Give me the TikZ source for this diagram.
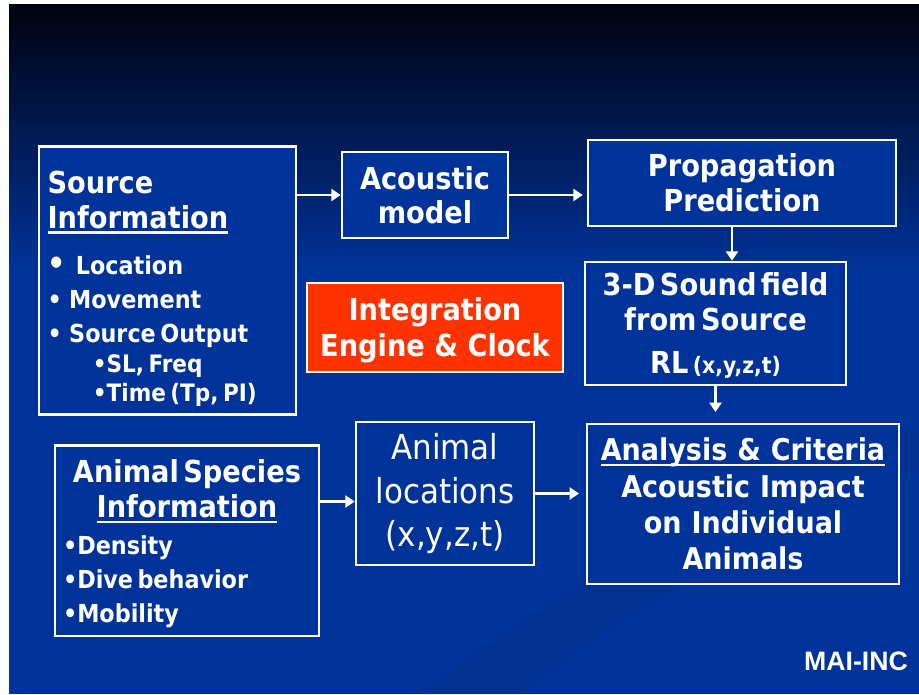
\documentclass[tikz,border=0pt]{standalone}
\usepackage{fontspec}
\setmainfont{DejaVu Sans Condensed}
\newfontfamily\maifont{Liberation Sans}
\usetikzlibrary{arrows.meta}
\definecolor{slideblue}{HTML}{003399}
\definecolor{slidetop}{HTML}{00020F}
\definecolor{swoosh}{HTML}{002E8C}
\definecolor{enginered}{HTML}{FF3300}
\newcommand{\bigtxt}{\fontsize{22.7}{26.5}\selectfont}
\newcommand{\midtxt}{\fontsize{18.6}{25.5}\selectfont}
\newcommand{\smalltxt}{\fontsize{18}{22}\selectfont}
\newcommand{\ulword}[1]{\leavevmode\setbox0\hbox{#1}\rlap{\rule[-3.8pt]{\wd0}{1.7pt}}\box0}

\begin{document}
\begin{tikzpicture}
    [
      x=0.75pt, y=-0.75pt,
      box/.style = {draw=white, line width=2pt, fill=slideblue, text=white,
                    font=\bfseries, inner sep=6pt},
      arr/.style = {draw=white, line width=2pt, -{Triangle[width=9pt,length=7pt]}}
    ]
    % slide background
    \useasboundingbox (0,0) rectangle (919,694);
    \fill[white] (0,0) rectangle (919,694);
    \fill[slideblue] (9,4) rectangle (919,694);
    \shade[top color=slidetop, bottom color=slideblue] (9,4) rectangle (919,270);
    \fill[swoosh, opacity=0.4] (420,694) .. controls (600,560) and (780,470) .. (919,430)
        -- (919,470) .. controls (800,510) and (640,600) .. (520,694) -- cycle;

    % boxes
    \node[box, minimum width=192.75pt, minimum height=198.75pt, text width=180pt,
          align=left] (source) at (167.5,280.5)
        {{\bigtxt \rule{0pt}{29pt}Source\par \ulword{Information}\par}\vspace{9pt}
         {\midtxt {\fontsize{24}{24}\selectfont•}\hspace{0.4em}Location\par
          •\hspace{0.3em}Movement\par •\hspace{0.3em}Source Output\par}
         {\smalltxt \hspace*{34pt}•SL, Freq\par \hspace*{34pt}•Time (Tp, PI)\par}};
    \node[box, minimum width=124.5pt, minimum height=64.5pt, align=center,
          font=\bfseries\fontsize{22.7}{25.5}\selectfont] (acoustic) at (425,195)
        {Acoustic\\model};
    \node[box, minimum width=231pt, minimum height=64.5pt, align=center,
          font=\bfseries\fontsize{22.7}{26}\selectfont] (prop) at (742,183)
        {Propagation\\Prediction};
    \node[box, minimum width=195.75pt, minimum height=92.25pt, text width=188pt,
          inner sep=2pt, align=center] (sound) at (715.5,323.5)
        {{\bigtxt \rule{0pt}{20pt}3-D Sound field\par from Source\par}\vspace{6pt}
         {\bigtxt RL {\fontsize{17}{17}\selectfont (x,y,z,t)}\par}};
    \node[box, fill=enginered, minimum width=192pt, minimum height=66.75pt,
          align=center, font=\bfseries\fontsize{22.7}{27}\selectfont] (engine)
        at (435,327.5) {\rule{0pt}{21pt}Integration\\Engine \& Clock};
    \node[box, minimum width=196.5pt, minimum height=141.75pt, text width=186pt,
          align=left] (species) at (187,540.5)
        {{\centering\bigtxt \rule{0pt}{22pt}Animal Species\par \ulword{Information}\par}\vspace{2pt}
         {\midtxt •Density\par •Dive behavior\par •Mobility\par}};
    \node[box, minimum width=133.5pt, minimum height=107.25pt, align=center,
          font=\mdseries\fontsize{25.8}{32.3}\selectfont] (locations) at (445,493.5)
        {Animal\\locations\\(x,y,z,t)};
    \node[box, minimum width=232.5pt, minimum height=120pt, text width=222pt,
          align=center, font=\bfseries\fontsize{22.5}{27.2}\selectfont] (analysis)
        at (743,504)
        {\ulword{Analysis \& Criteria}\\Acoustic Impact\\on Individual\\Animals};

    \node[text=white, font=\maifont\bfseries\fontsize{20}{20}\selectfont] (mai)
        at (856,661) {MAI-INC};

    % connectors
    \draw[arr] (acoustic.west -| source.east) -- (acoustic.west);
    \draw[arr, shorten >=3pt] (acoustic.east) -- (acoustic.east -| prop.west);
    \draw[arr] ([xshift=-7.5pt]prop.south) -- ([xshift=-7.5pt]prop.south |- sound.north);
    \draw[arr, shorten >=8pt] (sound.south) -- (sound.south |- analysis.north);
    \draw[arr] ([yshift=-6pt]locations.west -| species.east) -- ([yshift=-6pt]locations.west);
    \draw[arr, shorten >=5pt] (locations.east) -- (locations.east -| analysis.west);
\end{tikzpicture}
\end{document}
